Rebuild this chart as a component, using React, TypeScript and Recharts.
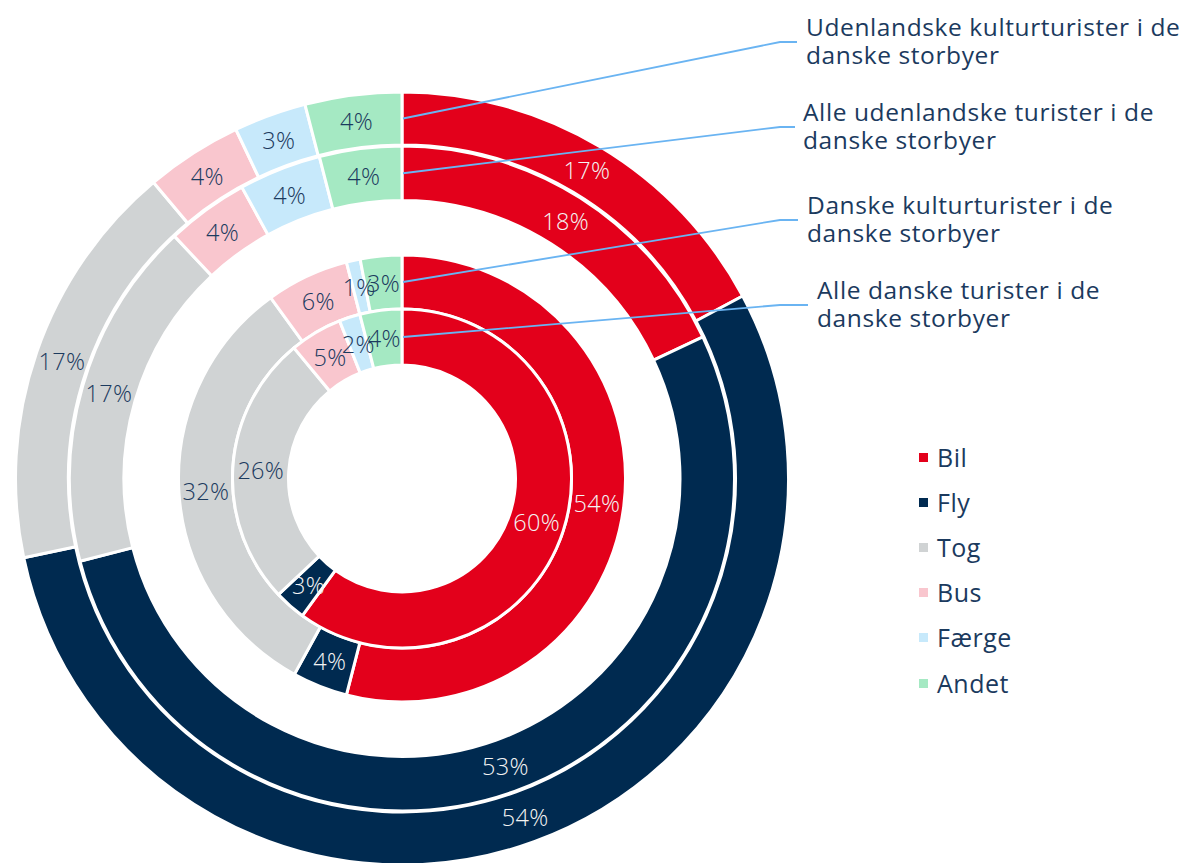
import React from 'react';
import { PieChart, Pie, Cell, Legend } from 'recharts';

const categories = ['Bil', 'Fly', 'Tog', 'Bus', 'Færge', 'Andet'];
const colors = ['#E3001B', '#002A50', '#D0D3D4', '#F9C6CE', '#C7E9FB', '#A5E9C3'];

const udenlandskeKultur = [17, 54, 17, 4, 3, 4];
const udenlandskeAlle = [18, 53, 17, 4, 4, 4];
const danskeKultur = [54, 4, 32, 6, 1, 3];
const danskeAlle = [60, 3, 26, 5, 2, 4];

const seriesNames = [
  ['Udenlandske kulturturister i de', 'danske storbyer'],
  ['Alle udenlandske turister i de', 'danske storbyer'],
  ['Danske kulturturister i de', 'danske storbyer'],
  ['Alle danske turister i de', 'danske storbyer'],
];

const FONT = '"Open Sans", "DejaVu Sans", sans-serif';
const NAVY = '#1B3A5E';
const CX = 402;
const CY = 478.5;

const rings = [
  { values: udenlandskeKultur, inner: 333.5, outer: 386.5 },
  { values: udenlandskeAlle, inner: 278, outer: 332.5 },
  { values: danskeKultur, inner: 169.5, outer: 223.5 },
  { values: danskeAlle, inner: 113.5, outer: 169.5 },
];

// callout layout (bend y, line end x, text x)
const callouts = [
  { bendY: 42, endX: 797, textX: 806 },
  { bendY: 127, endX: 795, textX: 803 },
  { bendY: 220, endX: 798, textX: 807 },
  { bendY: 305, endX: 808, textX: 817 },
];

const toData = (vals: number[]) => categories.map((name, i) => ({ name, value: vals[i] }));

const renderLabel = (props: any) => {
  const { cx, cy, midAngle, innerRadius, outerRadius, value, index } = props;
  const r = (innerRadius + outerRadius) / 2;
  const a = (-midAngle * Math.PI) / 180;
  const x = cx + r * Math.cos(a);
  const y = cy + r * Math.sin(a);
  const fill = index < 2 ? '#F4F4F4' : NAVY;
  return (
    <text
      key={`l-${index}`}
      x={x}
      y={y}
      textAnchor="middle"
      dominantBaseline="central"
      fill={fill}
      fontFamily={FONT}
      fontSize={23.5}
      fontWeight={300}
      letterSpacing={0.3}
    >
      {value}%
    </text>
  );
};

const Callouts = () => (
  <svg
    width={1187}
    height={863}
    style={{ position: 'absolute', left: 0, top: 0, pointerEvents: 'none' }}
  >
    {rings.map((ring, i) => {
      const midR = (ring.inner + ring.outer) / 2;
      const c = callouts[i];
      const sy = CY - midR;
      return (
        <g key={i}>
          <polyline
            points={`${CX + 1},${sy} 780,${c.bendY} ${c.endX},${c.bendY}`}
            fill="none"
            stroke="#6AB4F2"
            strokeWidth={1.8}
          />
          <text x={c.textX} y={c.bendY - 6.5} fill={NAVY} fontFamily={FONT} fontSize={24.5} letterSpacing={0.6}>
            {seriesNames[i][0]}
          </text>
          <text x={c.textX} y={c.bendY + 22} fill={NAVY} fontFamily={FONT} fontSize={24.5} letterSpacing={0.6}>
            {seriesNames[i][1]}
          </text>
        </g>
      );
    })}
  </svg>
);

const LegendContent = () => (
  <div style={{ fontFamily: FONT }}>
    {categories.map((c, i) => (
      <div key={c} style={{ display: 'flex', alignItems: 'center', height: 45.2 }}>
        <div style={{ width: 9, height: 9, background: colors[i], marginRight: 9 }} />
        <span style={{ fontSize: 25, color: NAVY, lineHeight: '45px', letterSpacing: 0.5 }}>{c}</span>
      </div>
    ))}
  </div>
);

export default function App() {
  return (
    <div style={{ position: 'absolute', left: 0, top: 0, width: 1187, height: 863, background: '#fff' }}>
      <PieChart width={1187} height={863} margin={{ top: 0, right: 0, bottom: 0, left: 0 }}>
        {rings.map((ring, ri) => (
          <Pie
            key={ri}
            data={toData(ring.values)}
            dataKey="value"
            nameKey="name"
            cx={CX}
            cy={CY}
            innerRadius={ring.inner}
            outerRadius={ring.outer}
            startAngle={90}
            endAngle={-270}
            stroke="#ffffff"
            strokeWidth={3}
            label={renderLabel}
            labelLine={false}
            isAnimationActive={false}
          >
            {categories.map((c, i) => (
              <Cell key={c} fill={colors[i]} />
            ))}
          </Pie>
        ))}
        <Legend
          content={LegendContent}
          wrapperStyle={{ position: 'absolute', left: 919, top: 434.5, width: 200, height: 280 }}
        />
      </PieChart>
      <Callouts />
    </div>
  );
}
